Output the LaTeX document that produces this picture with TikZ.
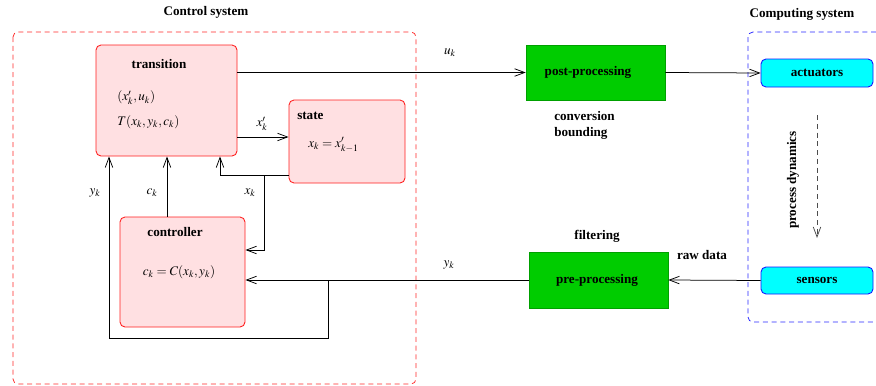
\documentclass[tikz,border=0pt]{standalone}
\usepackage{mathptmx}
\usepackage{fontspec}
\setmainfont{Liberation Serif}
\usetikzlibrary{arrows.meta}
\definecolor{boxred}{RGB}{255,30,30}
\definecolor{pinkfill}{RGB}{255,224,226}
\definecolor{grn}{RGB}{0,204,0}
\definecolor{grnborder}{RGB}{0,160,0}
\definecolor{cyanfill}{RGB}{0,255,255}
\definecolor{blueborder}{RGB}{20,20,255}
\definecolor{framered}{RGB}{255,40,40}
\definecolor{frameblue}{RGB}{40,40,255}
\tikzset{
  redbox/.style={draw=boxred, fill=pinkfill, rounded corners=4pt, line width=0.7pt, inner sep=0pt},
  greenbox/.style={draw=grnborder, fill=grn, line width=0.5pt, inner sep=0pt, font=\bfseries},
  cyanbox/.style={draw=blueborder, fill=cyanfill, rounded corners=4pt, line width=0.7pt, inner sep=0pt, font=\fontsize{10.5}{12}\selectfont\bfseries},
  ttl/.style={font=\fontsize{10.5}{12}\selectfont\bfseries, inner sep=0pt},
  lbl/.style={inner sep=0pt, font=\fontsize{10.5}{12}\selectfont},
  arr/.style={-{Straight Barb[length=8pt,width=6pt]}, line width=0.6pt},
  ln/.style={line width=0.6pt},
}
\begin{document}
\begin{tikzpicture}[x=0.8pt,y=-0.8pt]
\useasboundingbox (0,0) rectangle (876,385);
% group frames
\draw[framered, dashed, dash pattern=on 4pt off 3pt, line width=0.6pt, rounded corners=4pt] (13,32) rectangle (416,384);
\node[ttl] (ctitle) at (206,12) {Control system};
\begin{scope}
\clip (0,0) rectangle (876,385);
\draw[frameblue, dashed, dash pattern=on 4pt off 3pt, line width=0.6pt, rounded corners=4pt] (748,32) rectangle (900,322);
\end{scope}
\node[ttl] (stitle) at (802,14) {Computing system};

% boxes
\node[redbox, minimum width=112.8pt, minimum height=88.8pt] (trans) at (166.5,100.5) {};
\node[ttl] (transT) at (159,64) {transition};
\node[lbl, anchor=west] (transA) at (117,98) {$(x'_k,u_k)$};
\node[lbl, anchor=west] (transB) at (117,122) {$T(x_k,y_k,c_k)$};

\node[redbox, minimum width=92.8pt, minimum height=66.4pt] (state) at (347,141.5) {};
\node[ttl, anchor=west] (stateT) at (297,116) {state};
\node[lbl, anchor=west] (stateA) at (308,145) {$x_k = x'_{k-1}$};

\node[redbox, minimum width=100pt, minimum height=88pt] (ctrl) at (182.5,272) {};
\node[ttl] (ctrlT) at (175,232) {controller};
\node[lbl] (ctrlA) at (179,272) {$c_k = C(x_k,y_k)$};

\node[greenbox, minimum width=111.2pt, minimum height=44pt] (post) at (595.5,72.5) {};
\node[ttl] (postT) at (588,72) {post-processing};
\node[ttl, anchor=west] (conv) at (554,116) {conversion};
\node[ttl, anchor=west] (bound) at (554,133) {bounding};

\node[greenbox, minimum width=111.2pt, minimum height=44.8pt] (pre) at (598.5,280) {};
\node[ttl] (preT) at (597,280) {pre-processing};
\node[ttl] (filt) at (597,236) {filtering};

\node[cyanbox, minimum width=89.6pt, minimum height=22.4pt] (act) at (817,73) {actuators};
\node[cyanbox, minimum width=89.6pt, minimum height=21.6pt] (sens) at (817,280.5) {sensors};

\node[ttl] (raw) at (702,255) {raw data};

% connectors
\draw[arr] (trans.east |- post.west) -- (post.west);
\node[lbl] (uk) at (450,53) {$u_k$};
\draw[arr] (post.east) -- (act.west);

\draw[arr] (trans.east |- 0,137) -- (state.west |- 0,137);
\node[lbl] (xpk) at (262,124) {$x'_k$};

\coordinate (sret) at (state.west |- 0,175);
\coordinate (j1) at (264,175);
\coordinate (tin3) at (220,175);
\draw[arr] (sret) -- (tin3) -- (tin3 |- trans.south);
\draw[arr] (j1) |- (ctrl.east |- 0,250);
\node[lbl] (xk) at (250,193) {$x_k$};

\coordinate (cko) at (167,217);
\draw[arr] (cko) -- (cko |- trans.south);
\node[lbl] (ck) at (152,193) {$c_k$};

\draw[arr] (sens.west) -- (pre.east);
\draw[arr] (pre.west) -- (ctrl.east |- pre.west);
\node[lbl] (yk2) at (449,265) {$y_k$};

\coordinate (j2) at (328,280);
\coordinate (lb) at (109,338);
\draw[arr] (j2) |- (lb) -- (lb |- trans.south);
\node[lbl] (yk) at (95,193) {$y_k$};

% process dynamics
\coordinate (pd1) at (817,115);
\coordinate (pd2) at (817,238);
\draw[arr, black!70, dashed, dash pattern=on 4pt off 3pt] (pd1) -- (pd2);
\node[ttl, rotate=90] (pdyn) at (793,180) {process dynamics};
\end{tikzpicture}
\end{document}
